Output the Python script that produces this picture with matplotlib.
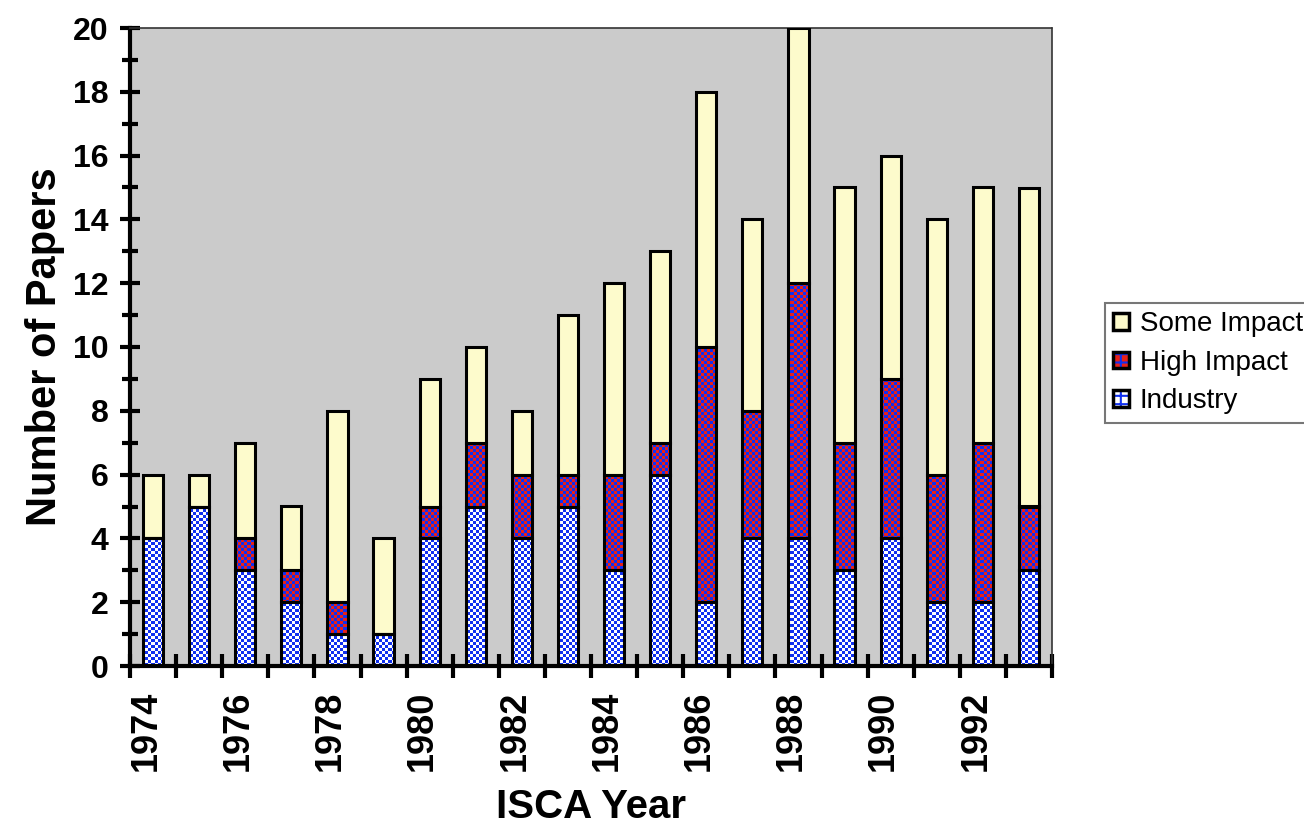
import matplotlib.pyplot as plt
import numpy as np
from matplotlib.patches import Patch
from matplotlib.ticker import MultipleLocator

years = list(range(1974, 1994))
industry = [4, 5, 3, 2, 1, 1, 4, 5, 4, 5, 3, 6, 2, 4, 4, 3, 4, 2, 2, 3]
high_impact = [0, 0, 1, 1, 1, 0, 1, 2, 2, 1, 3, 1, 8, 4, 8, 4, 5, 4, 5, 2]
some_impact = [2, 1, 3, 2, 6, 3, 4, 3, 2, 5, 6, 6, 8, 6, 8, 8, 7, 8, 8, 10]

plt.rcParams['font.family'] = ['Liberation Sans', 'DejaVu Sans']
plt.rcParams['hatch.linewidth'] = 1.5

BLUE = '#1030f0'
RED = '#e82018'
CREAM = '#fdfbcc'

fig = plt.figure(figsize=(13.04, 8.25), dpi=100)
ax = fig.add_axes([130 / 1304, 1 - 666 / 825, 922 / 1304, 638 / 825])
ax.set_facecolor('#cbcbcb')

x = np.arange(len(years))
w = 0.44
ind = np.array(industry)
hi = np.array(high_impact)
so = np.array(some_impact)
xlim = (-0.5, len(years) - 0.5)
ylim = (0, 20)

# checkerboard texture, ~3 px cells, clipped to each bar
ny, nx = 638 // 3, 922 // 3
checker = (np.add.outer(np.arange(ny), np.arange(nx)) % 2).astype(float)


def textured(vals, bottom, c1, c2):
    bars = ax.bar(x, vals, w, bottom=bottom, color=c1, linewidth=0, zorder=2)
    cmap = plt.matplotlib.colors.ListedColormap([c1, c2])
    for b in bars:
        if b.get_height() <= 0:
            continue
        im = ax.imshow(checker, cmap=cmap, extent=(*xlim, *ylim), origin='lower',
                       interpolation='nearest', aspect='auto', zorder=2.5)
        im.set_clip_path(b)
    return bars


textured(ind, 0, 'white', BLUE)
textured(hi, ind, RED, BLUE)
ax.bar(x, so, w, bottom=ind + hi, color=CREAM, linewidth=0, zorder=2)
for vals, bot in [(ind, 0), (hi, ind), (so, ind + hi)]:
    ax.bar(x, vals, w, bottom=bot, fill=False, edgecolor='black', linewidth=2.2, zorder=3)

ax.set_xlim(*xlim)
ax.set_ylim(*ylim)

ax.yaxis.set_major_locator(MultipleLocator(2))
ax.yaxis.set_minor_locator(MultipleLocator(1))
ax.tick_params(axis='y', which='major', direction='inout', length=15, width=3, labelsize=23, pad=8)
ax.tick_params(axis='y', which='minor', direction='inout', length=11, width=3)
for t in ax.get_yticklabels():
    t.set_fontweight('bold')

ax.set_xticks(np.arange(len(years) + 1) - 0.5)
ax.set_xticklabels([])
ax.tick_params(axis='x', which='major', direction='inout', length=17, width=3)
ax.set_xticks(x[::2] - 0.15, minor=True)
ax.set_xticklabels([str(y) for y in years[::2]], minor=True, rotation=90,
                   fontsize=26, fontweight='bold')
ax.tick_params(axis='x', which='minor', length=0, pad=18)

for s in ['left', 'bottom']:
    ax.spines[s].set_linewidth(3)
for s in ['top', 'right']:
    ax.spines[s].set_linewidth(1.2)
    ax.spines[s].set_linestyle((0, (1, 1)))
    ax.spines[s].set_color('#333333')

ax.set_ylabel('Number of Papers', fontsize=30, fontweight='bold', labelpad=6)
ax.set_xlabel('ISCA Year', fontsize=29, fontweight='bold', labelpad=12)

# legend swatches: hatched fill under a black outline
outline = dict(facecolor='none', edgecolor='black', linewidth=2.5)
handles = [
    Patch(facecolor=CREAM, edgecolor='black', linewidth=2.5),
    (Patch(facecolor=RED, edgecolor=BLUE, hatch='++', linewidth=0), Patch(**outline)),
    (Patch(facecolor='white', edgecolor=BLUE, hatch='++', linewidth=0), Patch(**outline)),
]
labels = ['Some Impact', 'High Impact', 'Industry']
leg = fig.legend(handles, labels, loc='upper left', bbox_to_anchor=(1105 / 1304, 1 - 303 / 825),
                 fontsize=20, frameon=True, fancybox=False, edgecolor='#555555',
                 handlelength=0.55, handleheight=0.55, handletextpad=0.4,
                 borderpad=0.3, labelspacing=0.45, borderaxespad=0)
leg.get_frame().set_linewidth(1.5)

fig.savefig('out.png', dpi=100)
